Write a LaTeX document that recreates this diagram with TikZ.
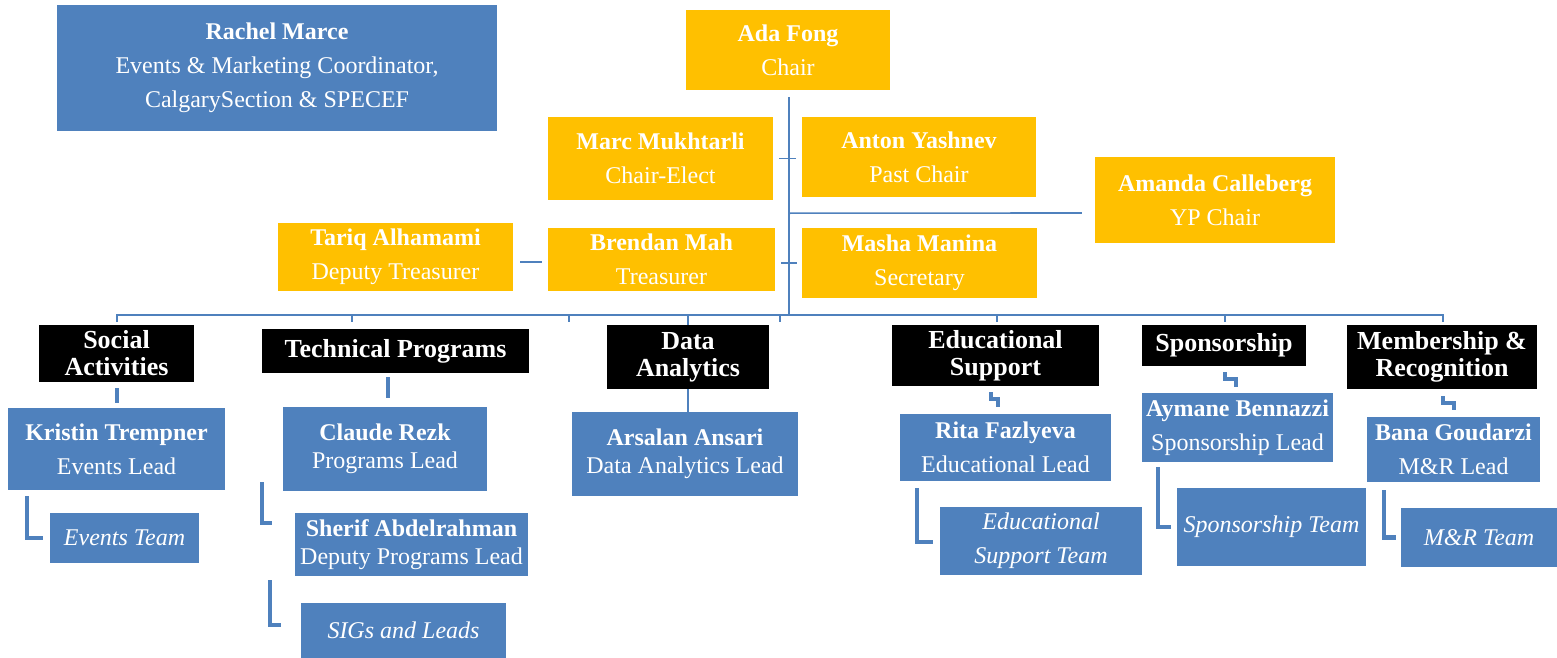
\documentclass[tikz,border=0pt]{standalone}
\usepackage{fontspec}
\setmainfont{Liberation Serif}
\usetikzlibrary{calc}
\definecolor{chartblue}{HTML}{4F81BD}
\definecolor{chairgold}{HTML}{FFC000}
\newcommand{\Member}[2]{\textbf{#1}\\#2}
\newcommand{\Body}{\fontsize{24}{34}\selectfont}
\newcommand{\Tight}{\fontsize{24}{27.5}\selectfont}
\newcommand{\Head}{\fontsize{26}{27}\selectfont\bfseries}

\tikzset{
  office/.style={fill=chairgold, text=white, inner sep=0pt, align=center, font=\Body},
  lead/.style={fill=chartblue, text=white, inner sep=0pt, align=center, font=\Body},
  team/.style={lead, font=\Body\itshape},
  unit/.style={fill=black, text=white, inner sep=0pt, align=center, font=\Head},
  link/.style={draw=chartblue, line width=1.6pt},
  elbow/.style={draw=chartblue, line width=4.5pt},
  stepper/.style={draw=chartblue, line width=3.5pt},
}

\begin{document}
\begin{tikzpicture}[x=1pt, y=-1pt]
    \useasboundingbox (0,0) rectangle (1557,658);

    % board
    \draw(277,68) node[lead, minimum width=440, minimum height=126] (rachel) {\Member{Rachel Marce}{Events \& Marketing Coordinator,\\CalgarySection \& SPECEF}};
    \draw(788,50) node[office, minimum width=204, minimum height=80] (ada) {\Member{Ada Fong}{Chair}};
    \draw(660.5,158.5) node[office, minimum width=225, minimum height=83] (marc) {\Member{Marc Mukhtarli}{Chair-Elect}};
    \draw(919,157) node[office, minimum width=234, minimum height=80] (anton) {\Member{Anton Yashnev}{Past Chair}};
    \draw(1215,200) node[office, minimum width=240, minimum height=86] (amanda) {\Member{Amanda Calleberg}{YP Chair}};
    \draw(395.5,257) node[office, minimum width=235, minimum height=68] (tariq) {\Member{Tariq Alhamami}{Deputy Treasurer}};
    \draw(661.5,259.5) node[office, minimum width=227, minimum height=63] (brendan) {\Member{Brendan Mah}{Treasurer}};
    \draw(919.5,263) node[office, minimum width=235, minimum height=70] (masha) {\Member{Masha Manina}{Secretary}};

    \coordinate (bus) at ($(ada.south)+(1,225)$);
    \draw[link, line width=2.4pt] (ada.south) ++(1,7) -- (bus);
    \draw[link] ($(marc.east)+(6,0)$) -- ++(17,0);
    \draw[link] ($(brendan.east)+(6,3.5)$) -- ++(16,0);
    \draw[link] ($(amanda.west)+(-13,13)$) -- ($(bus)+(0,-102)$);
    \draw[link] ($(tariq.east)+(7,5)$) -- ($(brendan.west)+(-6,2.5)$);

    % committees
    \draw(116.5,353.5) node[unit, minimum width=155, minimum height=57] (social) {Social\\Activities};
    \draw(395.5,351) node[unit, minimum width=267, minimum height=44] (techprog) {Technical Programs};
    \draw(688,357) node[unit, minimum width=162, minimum height=64] (data) {Data\\Analytics};
    \draw(995.5,355.5) node[unit, minimum width=207, minimum height=61] (edu) {Educational\\Support};
    \draw(1224,345.5) node[unit, minimum width=164, minimum height=41] (spons) {Sponsorship};
    \draw(1442,357) node[unit, minimum width=190, minimum height=64] (member) {Membership \&\\Recognition};

    \draw[link] ($(social.north)+(0.5,-3)$) |- (bus) -| ($(member.north)+(1,-3)$);
    \foreach \dx in {-437,-220,-9,208,436}
        \draw[link] ($(bus)+(\dx,0)$) -- ++(0,7);
    \draw[link] (bus -| data.north) -- (data.north);

    % leads
    \draw(116.5,449) node[lead, minimum width=217, minimum height=82] (kristin) {\Member{Kristin Trempner}{Events Lead}};
    \draw(385,449) node[lead, font=\Tight, minimum width=204, minimum height=84] (claude) {\Member{Claude Rezk}{Programs Lead}};
    \draw(685,454) node[lead, font=\Tight, minimum width=226, minimum height=84] (arsalan) {\Member{Arsalan Ansari}{Data Analytics Lead}};
    \draw(1005.5,447.5) node[lead, minimum width=211, minimum height=67] (rita) {\Member{Rita Fazlyeva}{Educational Lead}};
    \draw(1237.5,427.5) node[lead, minimum width=191, minimum height=69] (aymane) {\Member{Aymane Bennazzi}{Sponsorship Lead}};
    \draw(1453.5,449.5) node[lead, minimum width=173, minimum height=65] (bana) {\Member{Bana Goudarzi}{M\&R Lead}};

    \draw[elbow] ($(social.south)+(0.5,6)$) -- ($(kristin.north)+(0.5,-5)$);
    \draw[elbow] ($(techprog.south)+(-7.5,4)$) -- ($(claude.north)+(3,-9)$);
    \draw[link] (data.south) -- (data.south |- arsalan.north);
    \draw[stepper] ($(edu.south)+(-4.5,6)$) -- ++(0,7) -| ($(rita.north)+(-7.5,-7)$);
    \draw[stepper] ($(spons.south)+(1,6)$) -- ++(0,7) -| ($(aymane.north)+(-1.5,-6)$);
    \draw[stepper] ($(member.south)+(1,7)$) -- ++(0,7) -| ($(bana.north)+(0.5,-7)$);

    % teams
    \draw(124.5,538) node[team, minimum width=149, minimum height=50] (eventsteam) {Events Team};
    \draw(411.5,544.5) node[lead, font=\Tight, minimum width=233, minimum height=63] (sherif) {\Member{Sherif Abdelrahman}{Deputy Programs Lead}};
    \draw(403.5,630.5) node[team, minimum width=205, minimum height=55] (sigs) {SIGs and Leads};
    \draw(1041,541) node[team, minimum width=202, minimum height=68] (eduteam) {Educational\\Support Team};
    \draw(1271.5,527) node[team, minimum width=189, minimum height=78] (sponsteam) {Sponsorship Team};
    \draw(1479,537.5) node[team, minimum width=156, minimum height=59] (mrteam) {M\&R Team};

    \draw[elbow] ($(kristin.south west)+(19,6)$) |- ($(eventsteam.west)+(-7,0)$);
    \draw[elbow] ($(claude.south west)+(-21,-9)$) |- ($(sherif.north west)+(-23,10)$);
    \draw[elbow] ($(sherif.south west)+(-25,4)$) |- ($(sigs.west)+(-20,-5.5)$);
    \draw[elbow] ($(rita.south west)+(17,7)$) |- ($(eduteam.west)+(-7,1)$);
    \draw[elbow] ($(aymane.south west)+(16,5)$) |- ($(sponsteam.west)+(-6,0)$);
    \draw[elbow] ($(bana.south west)+(17,8)$) |- ($(mrteam.west)+(-5,0)$);

\end{tikzpicture}
\end{document}
